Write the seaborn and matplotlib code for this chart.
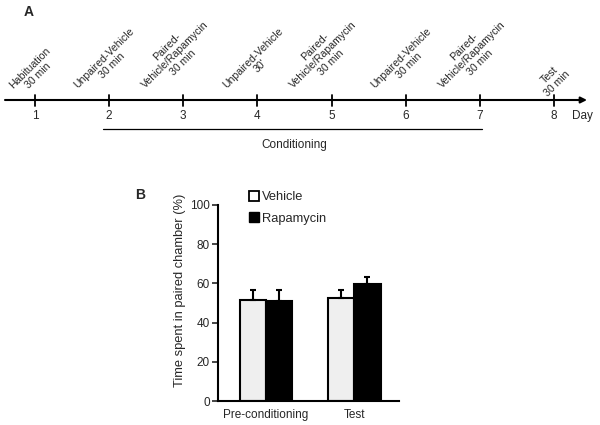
import numpy as np
import pandas as pd
import matplotlib
matplotlib.use("Agg")
import matplotlib.pyplot as plt
from matplotlib.lines import Line2D
import seaborn as sns

# Timeline data
days = [1, 2, 3, 4, 5, 6, 7, 8]
day_labels = [
    "Habituation\n30 min",
    "Unpaired-Vehicle\n30 min",
    "Paired-\nVehicle/Rapamycin\n30 min",
    "Unpaired-Vehicle\n30'",
    "Paired-\nVehicle/Rapamycin\n30 min",
    "Unpaired-Vehicle\n30 min",
    "Paired-\nVehicle/Rapamycin\n30 min",
    "Test\n30 min",
]
conditioning_days = [2, 7]

# Bar data
phases = ["Pre-conditioning", "Test"]
groups = ["Vehicle", "Rapamycin"]
vehicle_mean = [51.3, 52.5]
rapamycin_mean = [50.8, 59.6]
vehicle_sem = [5.5, 4.0]
rapamycin_sem = [6.0, 3.8]

sns.set_style("white")
plt.rcParams["font.family"] = ["Liberation Sans", "DejaVu Sans"]

fig = plt.figure(figsize=(6, 4.25), dpi=100)

# ---- panel A: timeline (x in days, y in pixels) ----
px_per_day = 74.14
ax_t = fig.add_axes([0, 0, 1, 1])
ax_t.set_xlim(1 - 35 / px_per_day, 1 + 565 / px_per_day)
ax_t.set_ylim(425, 0)
ax_t.axis("off")


def px(x):
    # pixel column -> day coordinate
    return 1 + (x - 35) / px_per_day


ax_t.annotate("", xy=(px(587), 100), xytext=(px(5), 100),
              arrowprops=dict(arrowstyle="-|>", color="black", lw=1.5,
                              mutation_scale=9, shrinkA=0, shrinkB=0))
for d, lab in zip(days, day_labels):
    nl = lab.count("\n") + 1
    ax_t.plot([d, d], [95, 106], color="black", lw=1.3)
    ax_t.text(d, 116, str(d), ha="center", va="center", fontsize=8.5)
    ax_t.text(d - 0.01 - 0.1 * (nl - 2), 98, lab, rotation=45, ha="center", va="bottom",
              multialignment="center", fontsize=7.6, linespacing=1.15)
ax_t.text(px(582), 116, "Day", ha="center", va="center", fontsize=8.5)
ax_t.plot([conditioning_days[0] - 0.08, conditioning_days[1] + 0.03], [129, 129],
          color="black", lw=0.9)
ax_t.text(np.mean(conditioning_days), 145, "Conditioning", ha="center", va="center",
          fontsize=8.5)
ax_t.text(px(29), 12, "A", fontsize=10, fontweight="bold", ha="center", va="center")
ax_t.text(px(140), 195, "B", fontsize=10, fontweight="bold", ha="center", va="center")

# ---- panel B: bars ----
df = pd.DataFrame({
    "phase": phases * 2,
    "group": [groups[0]] * 2 + [groups[1]] * 2,
    "value": vehicle_mean + rapamycin_mean,
})
ax = fig.add_axes([218 / 600, 1 - 401 / 425, (399 - 218) / 600, (401 - 205) / 425])
sns.barplot(data=df, x="phase", y="value", hue="group", hue_order=groups,
            palette={"Vehicle": "#efefef", "Rapamycin": "black"},
            edgecolor="black", linewidth=1.5, width=0.6, errorbar=None,
            legend=False, ax=ax)

for cont, sem in zip(ax.containers, [vehicle_sem, rapamycin_sem]):
    for bar, e in zip(cont, sem):
        xc = bar.get_x() + bar.get_width() / 2
        h = bar.get_height()
        ax.errorbar(xc, h, yerr=[[0], [e]], fmt="none", ecolor="black",
                    elinewidth=1.5, capsize=2.5, capthick=1.5)

ax.set_xlim(-0.545, 1.51)
ax.set_ylim(0, 100)
ax.set_yticks([0, 20, 40, 60, 80, 100])
ax.set_xlabel("")
ax.set_ylabel("Time spent in paired chamber (%)", fontsize=9.3)
ax.yaxis.set_label_coords(-(218 - 186) / 181, 0.566)
ax.tick_params(axis="y", direction="out", length=4, width=1.2, left=True,
               labelsize=8.5, pad=2)
ax.tick_params(axis="x", length=0, labelsize=8.5, pad=6)
sns.despine(ax=ax)
for s in ["left", "bottom"]:
    ax.spines[s].set_color("black")
    ax.spines[s].set_linewidth(1.5)

handles = [
    Line2D([], [], marker="s", ls="", markerfacecolor="white", markeredgecolor="black",
           markeredgewidth=1.3, markersize=7),
    Line2D([], [], marker="s", ls="", markerfacecolor="black", markeredgecolor="black",
           markersize=7),
]
fig.legend(handles, groups, loc="upper left", bbox_to_anchor=(241 / 600, 1 - 186 / 425),
           frameon=False, fontsize=9.3, handletextpad=0.0, labelspacing=0.75,
           handlelength=1.2, borderaxespad=0)

fig.savefig("out.png", dpi=100)
